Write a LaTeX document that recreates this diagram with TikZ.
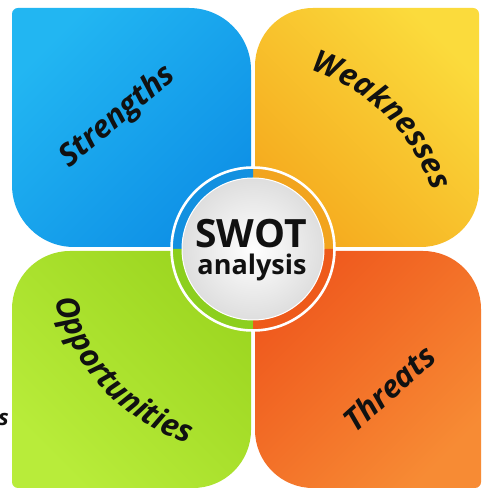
\documentclass[tikz,border=0pt]{standalone}
\usepackage{fontspec}
\setmainfont{Open Sans}
\usetikzlibrary{decorations.text}
\definecolor{blueA}{HTML}{22B6F2}
\definecolor{blueB}{HTML}{0E90E6}
\definecolor{yelA}{HTML}{FBDB3C}
\definecolor{yelB}{HTML}{F5AA1E}
\definecolor{grnA}{HTML}{9CD620}
\definecolor{grnB}{HTML}{B8EC3A}
\definecolor{orA}{HTML}{EF581D}
\definecolor{orB}{HTML}{F78B34}
\definecolor{ringB}{HTML}{1290E0}
\definecolor{ringY}{HTML}{F2A41E}
\definecolor{ringG}{HTML}{8CCF1E}
\definecolor{ringO}{HTML}{EE5A1A}
\definecolor{diskEdge}{HTML}{DEDEDE}
\definecolor{ink}{HTML}{111111}
\begin{document}
\begin{tikzpicture}[x=1pt,y=1pt,
  lbl/.style={font=\fontsize{31}{31}\selectfont\bfseries\itshape, text=ink, inner sep=0pt},
  ctr/.style={text=ink, inner sep=0pt, anchor=base}]
\useasboundingbox (0,0) rectangle (482,490);
\fill[white] (0,0) rectangle (482,490);
% quadrants
\shade[top color=blueA, bottom color=blueB, shading angle=45]
  (12,305) -- (12,476) arc[start angle=180,end angle=90,radius=6] -- (189,482)
  arc[start angle=90,end angle=0,radius=62] -- (251,243) -- (74,243)
  arc[start angle=270,end angle=180,radius=62] -- cycle;
\shade[top color=yelA, bottom color=yelB, shading angle=-45]
  (255,243) -- (255,424) arc[start angle=180,end angle=90,radius=58] -- (473,482)
  arc[start angle=90,end angle=0,radius=6] -- (479,301)
  arc[start angle=0,end angle=-90,radius=58] -- cycle;
\shade[top color=grnA, bottom color=grnB, shading angle=-45]
  (12,8) -- (12,181) arc[start angle=180,end angle=90,radius=58] -- (251,239) -- (251,60)
  arc[start angle=0,end angle=-90,radius=58] -- (18,2)
  arc[start angle=270,end angle=180,radius=6] -- cycle;
\shade[top color=orA, bottom color=orB, shading angle=45]
  (255,239) -- (423,239) arc[start angle=90,end angle=0,radius=58] -- (481,8)
  arc[start angle=0,end angle=-90,radius=6] -- (313,2)
  arc[start angle=270,end angle=180,radius=58] -- cycle;
% centre badge
\coordinate (c) at (253,241);
\fill[ringY] (c) -- ++(0:81) arc[start angle=0,end angle=90,radius=81] -- cycle;
\fill[ringB] (c) -- ++(90:81) arc[start angle=90,end angle=180,radius=81] -- cycle;
\fill[ringG] (c) -- ++(180:81) arc[start angle=180,end angle=270,radius=81] -- cycle;
\fill[ringO] (c) -- ++(270:81) arc[start angle=270,end angle=360,radius=81] -- cycle;
\draw[white, line width=2.6pt] (c) circle[radius=81.5];
\shade[inner color=white, outer color=diskEdge] (c) circle[radius=71];
\draw[white, line width=1pt] (c) circle[radius=71];
\node[ctr, font=\bfseries\fontsize{39}{39}\selectfont] (swot) at (251,242) {SWOT};
\node[ctr, font=\bfseries\fontsize{27}{27}\selectfont] (ana) at (252,215) {analysis};
% labels
\node[lbl, rotate=40] (st) at (118,373) {Strengths};
\node[lbl, rotate=42] (th) at (389,102) {Threats};
\path[shift={(c)}, decorate, decoration={text along path,
  text={|\fontsize{31}{31}\selectfont\bfseries\itshape\color{ink}|Weaknesses}, text align=center}]
  (100:188) arc[start angle=100,end angle=-10,radius=188];
\path[shift={(c)}, decorate, decoration={text along path,
  text={|\fontsize{31}{31}\selectfont\bfseries\itshape\color{ink}|Opportunities}, text align=center}]
  (168:205) arc[start angle=168,end angle=278,radius=205];
\node[font=\fontsize{22}{22}\selectfont\bfseries\itshape, text=ink, anchor=east, inner sep=0pt] (frag) at (9,71) {s};
\end{tikzpicture}
\end{document}
